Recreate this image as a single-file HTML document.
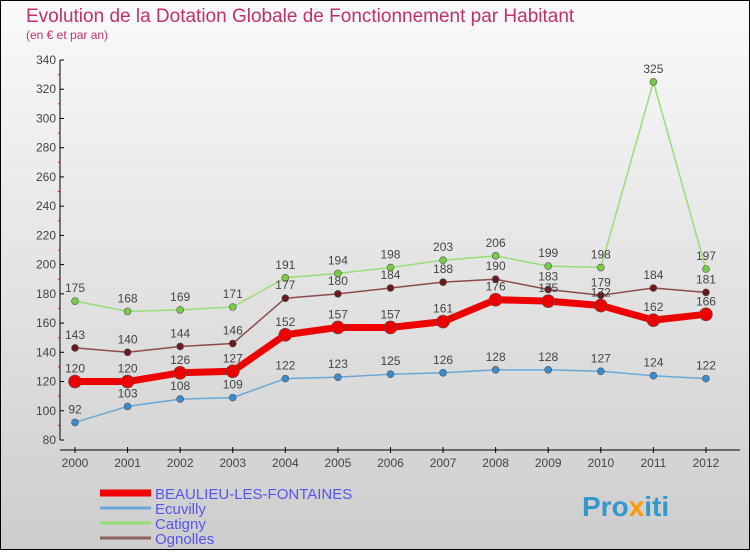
<!DOCTYPE html>
<html><head><meta charset="utf-8"><style>
body{margin:0;}
#c{width:750px;height:550px;position:relative;font-family:"Liberation Sans",sans-serif;}
</style></head><body>
<div id="c">
<svg id="s" width="750" height="550" xmlns="http://www.w3.org/2000/svg" font-family="Liberation Sans, sans-serif">
<defs><linearGradient id="bg" x1="0" y1="0" x2="0" y2="1"><stop offset="0" stop-color="#fafafa"/><stop offset="1" stop-color="#cdcdcd"/></linearGradient></defs>
<rect x="0.5" y="0.5" width="749" height="549" fill="url(#bg)" stroke="#000"/>
<text x="26" y="22" font-size="19" fill="#c0306a">Evolution de la Dotation Globale de Fonctionnement par Habitant</text>
<text x="26" y="39" font-size="12" fill="#c0306a">(en € et par an)</text>
<g id="axes"></g><g id="series"></g><g id="legend"></g>
<text x="582" y="516" font-size="28" font-weight="bold" fill="#3399cc">Pro<tspan fill="#ff9900">x</tspan>iti</text>
</svg></div>
<script>
const years=[2000,2001,2002,2003,2004,2005,2006,2007,2008,2009,2010,2011,2012];
const beaulieu=[120,120,126,127,152,157,157,161,176,175,172,162,166];
const ecuvilly=[92,103,108,109,122,123,125,126,128,128,127,124,122];
const catigny=[175,168,169,171,191,194,198,203,206,199,198,325,197];
const ognolles=[143,140,144,146,177,180,184,188,190,183,179,184,181];
const yTicks=[80,100,120,140,160,180,200,220,240,260,280,300,320,340];
const NS="http://www.w3.org/2000/svg";
const xS=i=>75+i*52.58;
const yS=v=>440-(v-80)*380/260;
function mk(t,a,p){const e=document.createElementNS(NS,t);for(const k in a)e.setAttribute(k,a[k]);p.appendChild(e);return e;}
const ax=document.getElementById('axes');
let e=mk('line',{x1:60,y1:60,x2:60,y2:440,stroke:'#000'},ax);


e=mk('line',{x1:60,y1:450,x2:740,y2:450,stroke:'#000'},ax);


yTicks.forEach((v,i)=>{const y=yS(v);
 mk('line',{x1:60,y1:y,x2:64,y2:y,stroke:'#000'},ax);
 if(i<yTicks.length-1)mk('line',{x1:58,y1:yS(v+10),x2:60,y2:yS(v+10),stroke:'#f00'},ax);
 const t=mk('text',{x:56,y:y+4,'text-anchor':'end','font-size':12,fill:'#444'},ax);t.textContent=v;
 
 });
years.forEach((yr,i)=>{const x=xS(i);
 mk('line',{x1:x,y1:447,x2:x,y2:453,stroke:'#000'},ax);
 const t=mk('text',{x:x,y:467,'text-anchor':'middle','font-size':12,fill:'#444'},ax);t.textContent=yr;
 
 });
const sg=document.getElementById('series');
function series(name,vals,col,w,r,dot,labelUp){
 const g=mk('g',{},sg);
 
 
 mk('polyline',{points:vals.map((v,i)=>xS(i)+','+yS(v)).join(' '),fill:'none',stroke:col,'stroke-width':w,'stroke-linejoin':'round'},g);
 vals.forEach((v,i)=>{const c=mk('circle',{cx:xS(i),cy:yS(v),r:r,fill:dot,stroke:'#555','stroke-width':0.6},g);
  
  
  const t=mk('text',{x:xS(i),y:yS(v)-(labelUp?8:-0)-0,'text-anchor':'middle','font-size':12,fill:'#444'},g);
  t.setAttribute('y',yS(v)-9);t.textContent=v;
  
  });
}
series('ecuvilly',ecuvilly,'#6aa8d8',1.5,3.5,'#3a8ccc',true);
series('catigny',catigny,'#99dd77',1.5,3.5,'#77cc44',true);
series('ognolles',ognolles,'#8b4b4b',1.5,3.5,'#6a1a1a',true);
series('beaulieu',beaulieu,'#ee0000',7,6.5,'#ee0000',true);
const lg=document.getElementById('legend');
const L=[['BEAULIEU-LES-FONTAINES','#ee0000',7],['Ecuvilly','#6aa8d8',3],['Catigny','#99dd77',3],['Ognolles','#8b6060',3]];
L.forEach((l,i)=>{const y=493+i*15;
 const g=mk('g',{},lg);
 
 
 mk('line',{x1:100,y1:y,x2:151,y2:y,stroke:l[1],'stroke-width':l[2]},g);
 const t=mk('text',{x:155,y:y+6,'font-size':15,fill:'#5555ee'},g);t.textContent=l[0];});
</script>
</body></html>
